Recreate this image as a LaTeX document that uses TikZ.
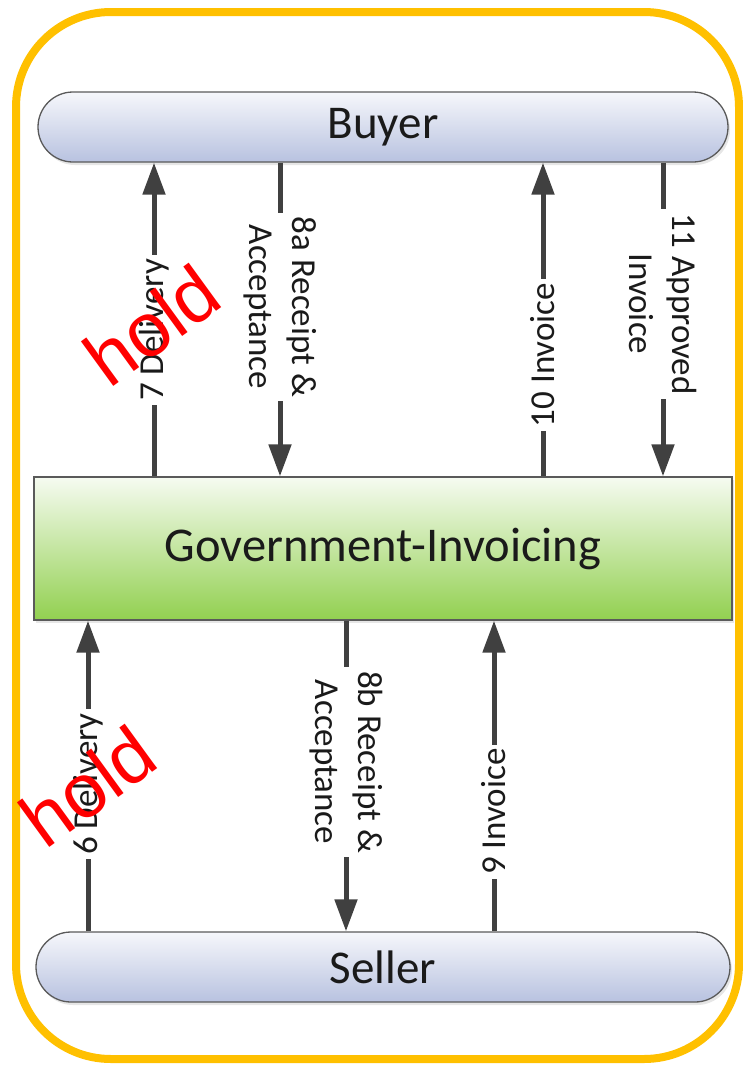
\documentclass[tikz,border=0pt]{standalone}
\usepackage{fontspec}
\setmainfont{Carlito}
\newfontfamily\holdfont{Liberation Sans}
\usetikzlibrary{arrows.meta,shadows}

\definecolor{framegold}{HTML}{FFC000}
\definecolor{edgegray}{HTML}{5A5A5A}
\definecolor{flowgray}{HTML}{404040}
\definecolor{inkdark}{HTML}{1A1A1A}
\definecolor{pilltop}{HTML}{F6F7FB}
\definecolor{pillbot}{HTML}{B8C2E0}
\definecolor{boxtop}{HTML}{F6FBF1}
\definecolor{boxbot}{HTML}{92D050}

\tikzset{
  party/.style={draw=edgegray, line width=1.3pt, rounded corners=35pt,
    top color=pilltop, bottom color=pillbot,
    minimum height=70pt, text=inkdark,
    font=\fontsize{47}{50}\selectfont,
    drop shadow={opacity=0.2, shadow xshift=2pt, shadow yshift=-3pt}},
  hub/.style={draw=edgegray, line width=1.3pt,
    top color=boxtop, bottom color=boxbot,
    minimum width=698pt, minimum height=143pt, text=inkdark,
    font=\fontsize{48.5}{52}\selectfont,
    drop shadow={opacity=0.2, shadow xshift=2pt, shadow yshift=-3pt}},
  flow/.style={draw=flowgray, line width=5pt,
    -{Triangle[width=22pt,length=32pt]}},
  flowlabel/.style={fill=white, text=inkdark, inner xsep=4pt, inner ysep=1pt,
    align=center, font=\fontsize{35}{43}\selectfont},
  holdmark/.style={text=red, font=\holdfont\fontsize{76}{80}\selectfont, rotate=36}
}

\begin{document}
\begin{tikzpicture}[x=1pt,y=-1pt]
  \useasboundingbox (0,0) rectangle (743,1068);

  % outer frame
  \draw[framegold, line width=8pt, rounded corners=95pt] (16,12) rectangle (739,1059);

  % parties and the central service
  \node[party, minimum width=690pt] (buyer) at (383,127) {Buyer};
  \node[hub] (gov) at (383,548.5) {Government-Invoicing};
  \node[party, minimum width=694pt] (seller) at (383,967) {Seller};

  % flows between buyer and the service
  \draw[flow] (gov.north -| 154,0) -- (buyer.south -| 154,0)
    node[flowlabel, pos=0.467, rotate=90] (l7) {7 Delivery};
  \draw[flow] (buyer.south -| 280,0) -- (gov.north -| 280,0)
    node[flowlabel, pos=0.46, rotate=-90] (l8a) {8a Receipt \&\\Acceptance};
  \draw[flow] (gov.north -| 543,0) -- (buyer.south -| 543,0)
    node[flowlabel, pos=0.387, rotate=90] (l10) {10 Invoice};
  \draw[flow] (buyer.south -| 663,0) -- (gov.north -| 663,0)
    node[flowlabel, pos=0.45, rotate=-90] (l11) {11 Approved\\Invoice};

  % flows between seller and the service
  \draw[flow] (seller.north -| 88,0) -- (gov.south -| 88,0)
    node[flowlabel, pos=0.474, rotate=90] (l6) {6 Delivery};
  \draw[flow] (gov.south -| 346,0) -- (seller.north -| 346,0)
    node[flowlabel, pos=0.455, rotate=-90] (l8b) {8b Receipt \&\\Acceptance};
  \draw[flow] (seller.north -| 494,0) -- (gov.south -| 494,0)
    node[flowlabel, pos=0.385, rotate=90] (l9) {9 Invoice};

  % hold stamps over the delivery flows
  \node[holdmark] (hold7) at (152,325) {hold};
  \node[holdmark] (hold6) at (88,786) {hold};
\end{tikzpicture}
\end{document}
